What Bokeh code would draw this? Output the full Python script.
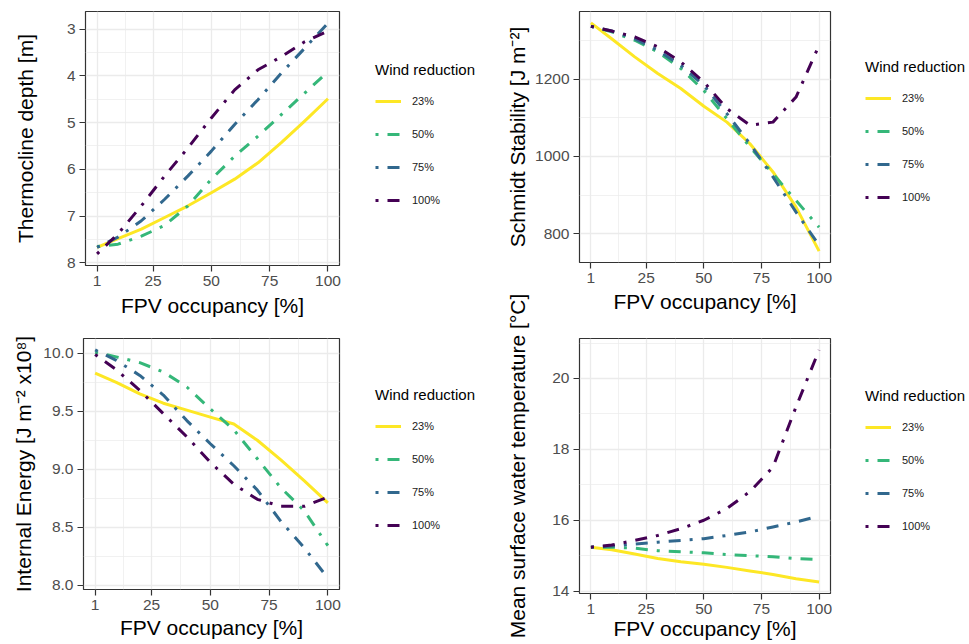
from bokeh.plotting import figure
from bokeh.layouts import row, column
from bokeh.models import FixedTicker, Range1d, Legend, LegendItem
from bokeh.embed import file_html
from bokeh.resources import INLINE

# ---------------- data ----------------
occupancy = [1, 10, 20, 30, 40, 50, 60, 70, 80, 90, 100]
wind_labels = ["23%", "50%", "75%", "100%"]
colors = ["#FDE725", "#35B779", "#31688E", "#440154"]
dashes = ["solid", "3 9 12 9", "3 9 12 9", "3 9 12 9"]

thermo_23 = [7.67, 7.48, 7.28, 7.03, 6.78, 6.50, 6.21, 5.86, 5.43, 4.97, 4.49]
thermo_50 = [7.65, 7.60, 7.43, 7.20, 6.78, 6.21, 5.72, 5.29, 4.83, 4.37, 3.91]
thermo_75 = [7.67, 7.45, 7.10, 6.64, 6.14, 5.61, 5.04, 4.51, 3.94, 3.41, 2.87]
thermo_100 = [7.81, 7.38, 6.78, 6.14, 5.54, 4.90, 4.30, 3.87, 3.59, 3.27, 3.04]

schmidt_23 = [1346, 1305, 1258, 1215, 1176, 1130, 1089, 1033, 960, 869, 755]
schmidt_50 = [1337, 1323, 1301, 1271, 1228, 1171, 1098, 1025, 955, 886, 817]
schmidt_75 = [1337, 1325, 1305, 1275, 1236, 1184, 1111, 1033, 947, 856, 770]
schmidt_100 = [1337, 1325, 1310, 1284, 1245, 1193, 1124, 1081, 1089, 1154, 1288]

energy_23 = [9.83, 9.75, 9.65, 9.57, 9.51, 9.45, 9.39, 9.25, 9.08, 8.90, 8.71]
energy_50 = [10.01, 9.97, 9.92, 9.84, 9.71, 9.52, 9.34, 9.09, 8.84, 8.64, 8.34]
energy_75 = [10.03, 9.94, 9.81, 9.64, 9.42, 9.22, 9.03, 8.82, 8.55, 8.32, 8.06]
energy_100 = [9.99, 9.86, 9.68, 9.48, 9.28, 9.06, 8.87, 8.74, 8.68, 8.68, 8.76]

temp_23 = [15.24, 15.17, 15.05, 14.92, 14.83, 14.76, 14.67, 14.57, 14.47, 14.35, 14.26]
temp_50 = [15.24, 15.24, 15.21, 15.14, 15.11, 15.08, 15.03, 15.00, 14.97, 14.92, 14.89]
temp_75 = [15.24, 15.27, 15.33, 15.38, 15.43, 15.48, 15.57, 15.67, 15.81, 15.95, 16.12]
temp_100 = [15.24, 15.30, 15.43, 15.57, 15.76, 16.00, 16.33, 16.81, 17.50, 19.20, 20.80]

x_ticks = [1, 25, 50, 75, 100]
x_minor = [13, 37.5, 62.5, 87.5]
x_tick_labels = ["1", "25", "50", "75", "100"]

thermo_ticks = [3, 4, 5, 6, 7, 8]
thermo_minor = [3.5, 4.5, 5.5, 6.5, 7.5]
thermo_tick_labels = ["3", "4", "5", "6", "7", "8"]

schmidt_ticks = [800, 1000, 1200]
schmidt_minor = [900, 1100, 1300]
schmidt_tick_labels = ["800", "1000", "1200"]

energy_ticks = [8.0, 8.5, 9.0, 9.5, 10.0]
energy_minor = [8.25, 8.75, 9.25, 9.75]
energy_tick_labels = ["8.0", "8.5", "9.0", "9.5", "10.0"]

temp_ticks = [14, 16, 18, 20]
temp_minor = [15, 17, 19, 21]
temp_tick_labels = ["14", "16", "18", "20"]

x_title = "FPV occupancy [%]"
legend_title = "Wind reduction"
thermo_title = "Thermocline depth [m]"
schmidt_title = "Schmidt Stability [J m\u207b\u00b2]"
energy_title = "Internal Energy [J m\u207b\u00b2 x10\u2078]"
temp_title = "Mean surface water temperature [\u00b0C]"

FONT = "Liberation Sans"
TITLE_SIZE = "21px"
LINE_W = 3


def style_axis(ax):
    ax.axis_line_color = None
    ax.major_tick_line_color = "#333333"
    ax.major_tick_line_width = 1.2
    ax.major_tick_out = 6
    ax.major_tick_in = 0
    ax.minor_tick_line_color = None
    ax.major_label_text_font = FONT
    ax.major_label_text_font_size = "15.5px"
    ax.major_label_text_color = "#4D4D4D"
    ax.major_label_standoff = 4
    ax.axis_label_text_font = FONT
    ax.axis_label_text_font_size = TITLE_SIZE
    ax.axis_label_text_font_style = "normal"
    ax.axis_label_text_color = "#000000"


def blank_fig(width, height, **borders):
    s = figure(width=width, height=height, output_backend="svg",
               toolbar_location=None, x_range=Range1d(-3, -2), y_range=Range1d(-3, -2),
               **borders)
    s.xaxis.visible = False
    s.grid.visible = False
    s.outline_line_color = None
    s.background_fill_color = "white"
    s.border_fill_color = "white"
    return s


def make_panel(width, height, frame, series, yticks, yminor, ylabels, ytitle,
               ystandoff, xstandoff, flip=False):
    left, top, right, bottom = frame
    lo = min(min(s) for s in series)
    hi = max(max(s) for s in series)
    pad = 0.05 * (hi - lo)
    if flip:
        yr = Range1d(hi + pad, lo - pad)
    else:
        yr = Range1d(lo - pad, hi + pad)
    xpad = 0.05 * (max(occupancy) - min(occupancy))
    p = figure(width=width, height=height, output_backend="svg",
               toolbar_location=None,
               x_range=Range1d(min(occupancy) - xpad, max(occupancy) + xpad),
               y_range=yr,
               min_border_left=left, min_border_right=width - right,
               min_border_top=top, min_border_bottom=height - bottom)
    p.background_fill_color = "white"
    p.border_fill_color = "white"
    p.outline_line_color = "#333333"
    p.outline_line_width = 1.2

    p.xaxis.ticker = FixedTicker(ticks=x_ticks, minor_ticks=x_minor)
    p.xaxis.major_label_overrides = {t: l for t, l in zip(x_ticks, x_tick_labels)}
    p.yaxis.ticker = FixedTicker(ticks=yticks, minor_ticks=yminor)
    p.yaxis.major_label_overrides = {t: l for t, l in zip(yticks, ylabels)}

    style_axis(p.xaxis[0])
    style_axis(p.yaxis[0])

    p.xaxis.axis_label = x_title
    p.xaxis.axis_label_standoff = xstandoff
    if ytitle:
        p.yaxis.axis_label = ytitle
        p.yaxis.axis_label_standoff = ystandoff

    for g in (p.xgrid, p.ygrid):
        g.grid_line_color = "#EBEBEB"
        g.grid_line_width = 1.3
        g.minor_grid_line_color = "#EBEBEB"
        g.minor_grid_line_width = 0.7

    for vals, col, dash in zip(series, colors, dashes):
        p.line(occupancy, vals, line_color=col, line_width=LINE_W,
               line_dash=dash, line_cap="butt", line_join="round")
    return p


def legend_fig(width, height, loc, series):
    s = blank_fig(width, height, min_border_left=0, min_border_right=0,
                  min_border_top=0, min_border_bottom=0)
    s.yaxis.visible = False
    items = []
    for vals, lab, col, dash in zip(series, wind_labels, colors, dashes):
        # legend key: same series and style; this strip's ranges keep the line itself out of view
        r = s.line(occupancy, vals, line_color=col, line_width=LINE_W,
                   line_dash=dash, line_cap="butt")
        items.append(LegendItem(label=lab, renderers=[r]))
    leg = Legend(items=items, location=loc, title=legend_title,
                 title_text_font=FONT, title_text_font_size="15px",
                 title_text_font_style="normal", title_text_color="#000000",
                 title_standoff=13,
                 label_text_font=FONT, label_text_font_size="11px",
                 label_text_color="#1A1A1A", label_standoff=11,
                 label_height=20, glyph_width=26, glyph_height=20, spacing=13,
                 padding=0, margin=0, border_line_color=None,
                 background_fill_alpha=0)
    s.add_layout(leg)
    return s


def title_strip(width, height, title, border_top, border_bottom, border_left):
    s = blank_fig(width, height, min_border_left=border_left, min_border_right=0,
                  min_border_top=border_top, min_border_bottom=border_bottom)
    ax = s.yaxis[0]
    ax.ticker = FixedTicker(ticks=[])
    ax.axis_line_color = None
    ax.major_tick_line_color = None
    ax.minor_tick_line_color = None
    ax.major_label_text_font_size = "0px"
    ax.major_tick_out = 0
    ax.major_label_standoff = 0
    ax.axis_label = title
    ax.axis_label_standoff = 0
    ax.axis_label_text_font = FONT
    ax.axis_label_text_font_size = TITLE_SIZE
    ax.axis_label_text_font_style = "normal"
    ax.axis_label_text_color = "#000000"
    return s


thermo = [thermo_23, thermo_50, thermo_75, thermo_100]
energy = [energy_23, energy_50, energy_75, energy_100]
schmidt = [schmidt_23, schmidt_50, schmidt_75, schmidt_100]
temp = [temp_23, temp_50, temp_75, temp_100]

f1 = make_panel(360, 322, (85, 11, 339, 265), thermo,
                thermo_ticks, thermo_minor, thermo_tick_labels, thermo_title,
                27, 5, flip=True)
f3 = make_panel(360, 322, (83, 16, 339, 267), energy,
                energy_ticks, energy_minor, energy_tick_labels, energy_title,
                5, 3)
f2 = make_panel(319, 322, (47, 11, 298, 262), schmidt,
                schmidt_ticks, schmidt_minor, schmidt_tick_labels, None, 0, 4)
f4 = make_panel(319, 322, (47, 16, 298, 271), temp,
                temp_ticks, temp_minor, temp_tick_labels, None, 0, 0)

leg1 = legend_fig(135, 322, (15, 55), thermo)
leg3 = legend_fig(135, 322, (15, 54), energy)
leg2 = legend_fig(118, 322, (14, 55), schmidt)
leg4 = legend_fig(118, 322, (14, 57), temp)

# strips holding the y-axis titles of the right-hand panels
# (the lower title is taller than its panel, as in the original)
labT = title_strip(37, 280, schmidt_title, 0, 7, 33)
labB = title_strip(37, 364, temp_title, 7, 0, 33)

layout = row(column(row(f1, leg1), row(f3, leg3)),
             column(labT, labB),
             column(row(f2, leg2), row(f4, leg4)))

with open("out.html", "w") as fh:
    fh.write(file_html(layout, INLINE))
